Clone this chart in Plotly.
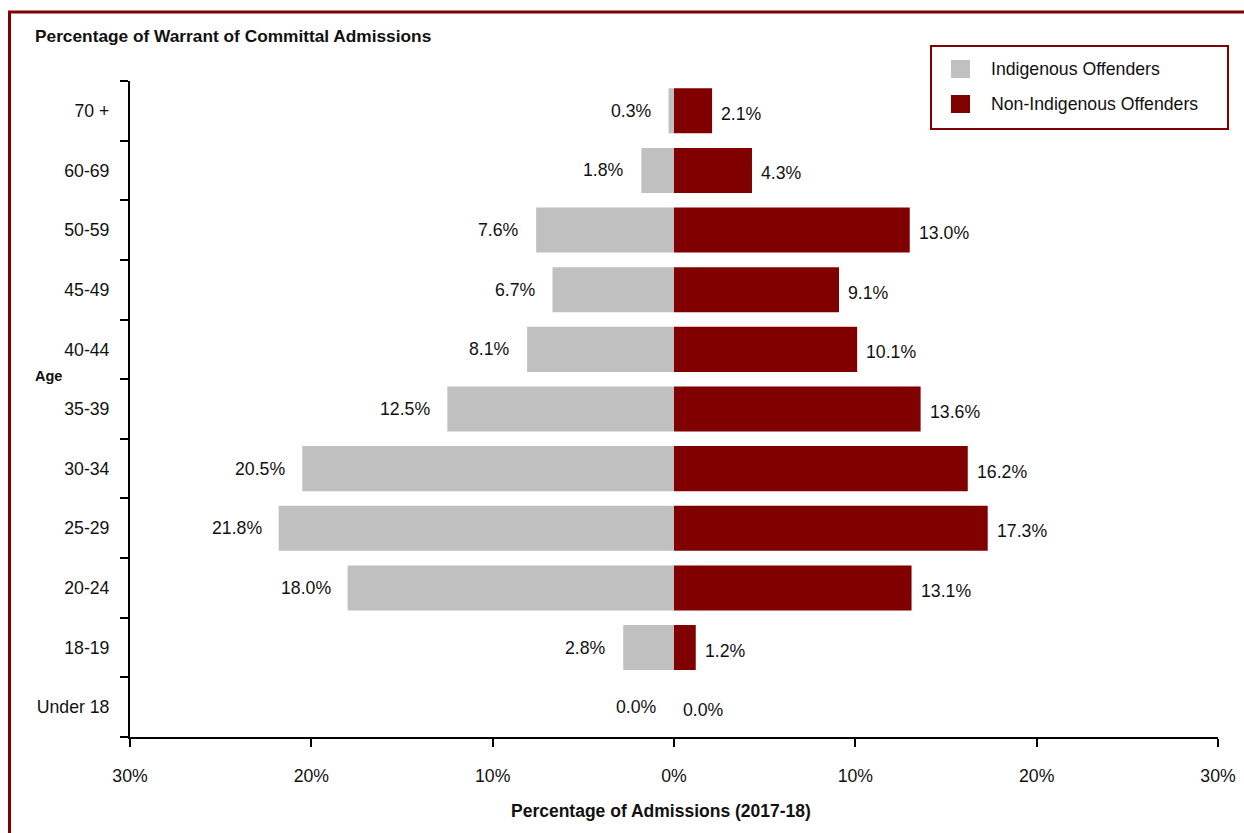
import plotly.graph_objects as go

# Age groups, listed bottom to top
age_groups = ["Under 18", "18-19", "20-24", "25-29", "30-34", "35-39",
              "40-44", "45-49", "50-59", "60-69", "70 +"]
indigenous = [0.0, 2.8, 18.0, 21.8, 20.5, 12.5, 8.1, 6.7, 7.6, 1.8, 0.3]
non_indigenous = [0.0, 1.2, 13.1, 17.3, 16.2, 13.6, 10.1, 9.1, 13.0, 4.3, 2.1]
x_ticks = [-30, -20, -10, 0, 10, 20, 30]
x_tick_labels = ["30%", "20%", "10%", "0%", "10%", "20%", "30%"]

GREY = "#C0C0C0"
MAROON = "#800000"
FONT = "Liberation Sans, Arial, sans-serif"
TXT = 17.7

W, H = 1244, 833
M_L, M_R, M_T, M_B = 130, 26, 81, 96
PW, PH = W - M_L - M_R, H - M_T - M_B


def px(xp):
    return (xp - M_L) / PW


def py(yp):
    return (H - M_B - yp) / PH


fig = go.Figure()
fig.add_trace(go.Bar(
    y=age_groups, x=[-v for v in indigenous], orientation="h",
    marker=dict(color=GREY, line=dict(width=0)), name="Indigenous Offenders",
    hovertemplate="%{y}: %{customdata:.1f}%<extra></extra>", customdata=indigenous,
))
fig.add_trace(go.Bar(
    y=age_groups, x=non_indigenous, orientation="h",
    marker=dict(color=MAROON, line=dict(width=0)), name="Non-Indigenous Offenders",
    hovertemplate="%{y}: %{x:.1f}%<extra></extra>",
))

annotations = []
for age, v in zip(age_groups, indigenous):
    annotations.append(dict(x=-v, y=age, xref="x", yref="y", text=f"{v:.1f}%",
                            showarrow=False, xanchor="right", xshift=-15,
                            font=dict(size=TXT, color="#111")))
for age, v in zip(age_groups, non_indigenous):
    annotations.append(dict(x=v, y=age, xref="x", yref="y", text=f"{v:.1f}%",
                            showarrow=False, xanchor="left", xshift=7, yshift=-3,
                            font=dict(size=TXT, color="#111")))

# Titles
annotations.append(dict(x=px(33), y=py(36), xref="paper", yref="paper",
                        text="<b>Percentage of Warrant of Committal Admissions</b>",
                        showarrow=False, xanchor="left", yanchor="middle",
                        font=dict(size=17.3, color="#111")))
annotations.append(dict(x=px(33), y=py(376), xref="paper", yref="paper",
                        text="<b>Age</b>", showarrow=False, xanchor="left",
                        yanchor="middle", font=dict(size=14.5, color="#111")))
annotations.append(dict(x=px(661), y=py(811), xref="paper", yref="paper",
                        text="<b>Percentage of Admissions (2017-18)</b>",
                        showarrow=False, xanchor="center", yanchor="middle",
                        font=dict(size=17.5, color="#111")))

# Legend
legend_items = [("Indigenous Offenders", GREY, 69), ("Non-Indigenous Offenders", MAROON, 104)]
shapes = [
    dict(type="rect", xref="paper", yref="paper", x0=px(931), x1=px(1228),
         y0=py(129), y1=py(46), line=dict(color=MAROON, width=2), fillcolor="white"),
    # outer frame
    dict(type="line", xref="paper", yref="paper", x0=px(9.5), x1=px(9.5),
         y0=py(12), y1=py(840), line=dict(color=MAROON, width=3)),
    dict(type="line", xref="paper", yref="paper", x0=px(8), x1=px(1250),
         y0=py(12), y1=py(12), line=dict(color=MAROON, width=3)),
]
for label, color, yc in legend_items:
    shapes.append(dict(type="rect", xref="paper", yref="paper", x0=px(951), x1=px(970),
                       y0=py(yc + 9), y1=py(yc - 9), line=dict(width=0), fillcolor=color))
    annotations.append(dict(x=px(989), y=py(yc), xref="paper", yref="paper", text=label,
                            showarrow=False, xanchor="left", yanchor="middle",
                            font=dict(size=TXT, color="#111")))

fig.update_layout(
    width=W, height=H,
    margin=dict(l=M_L, r=M_R, t=M_T, b=M_B, pad=0, autoexpand=False),
    paper_bgcolor="white", plot_bgcolor="white",
    barmode="relative", bargap=0.245,
    showlegend=False,
    font=dict(family=FONT, size=TXT, color="#111"),
    annotations=annotations, shapes=shapes,
    xaxis=dict(range=[-30, 30], tickvals=x_ticks, ticktext=x_tick_labels,
               showgrid=False, zeroline=False, showline=True, linecolor="black",
               linewidth=2, ticks="outside", ticklen=8, tickwidth=2, tickcolor="black",
               ticklabelstandoff=14, tickfont=dict(size=TXT), automargin=False),
    yaxis=dict(type="category", categoryorder="array", categoryarray=age_groups,
               range=[-0.5, 10.5], showgrid=False, zeroline=False, showline=True,
               linecolor="black", linewidth=2, ticks="outside", ticklen=8, tickwidth=2,
               tickcolor="black", tickson="boundaries", ticklabelstandoff=15,
               tickfont=dict(size=TXT), automargin=False),
)

fig.write_html("out.html")
